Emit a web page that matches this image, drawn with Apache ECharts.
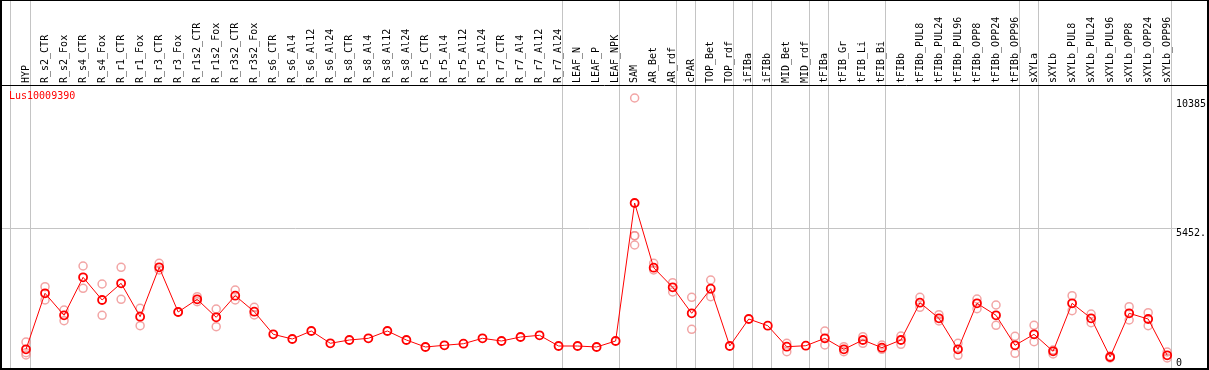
<!DOCTYPE html>
<html><head><meta charset="utf-8">
<script src="https://cdn.jsdelivr.net/npm/echarts@6/dist/echarts.min.js"></script>
<style>html,body{margin:0;padding:0;background:#fff}#c{width:1209px;height:370px}</style>
</head><body><div id="c"></div>
<script>
const geneName = 'Lus10009390';
const categories = ['HYP','R_s2_CTR','R_s2_Fox','R_s4_CTR','R_s4_Fox','R_r1_CTR','R_r1_Fox','R_r3_CTR','R_r3_Fox','R_r1s2_CTR','R_r1s2_Fox','R_r3s2_CTR','R_r3s2_Fox','R_s6_CTR','R_s6_Al4','R_s6_Al12','R_s6_Al24','R_s8_CTR','R_s8_Al4','R_s8_Al12','R_s8_Al24','R_r5_CTR','R_r5_Al4','R_r5_Al12','R_r5_Al24','R_r7_CTR','R_r7_Al4','R_r7_Al12','R_r7_Al24','LEAF_N','LEAF_P','LEAF_NPK','SAM','AR_Bet','AR_rdf','cPAR','TOP_Bet','TOP_rdf','iFIBa','iFIBb','MID_Bet','MID_rdf','tFIBa','tFIB_Gr','tFIB_Li','tFIB_Bi','tFIBb','tFIBb_PUL8','tFIBb_PUL24','tFIBb_PUL96','tFIBb_OPP8','tFIBb_OPP24','tFIBb_OPP96','sXYLa','sXYLb','sXYLb_PUL8','sXYLb_PUL24','sXYLb_PUL96','sXYLb_OPP8','sXYLb_OPP24','sXYLb_OPP96'];
const means = [825,2956,2119,3564,2701,3336,2066,3945,2244,2727,2043,2864,2256,1396,1217,1522,1054,1179,1244,1522,1179,913,978,1038,1244,1141,1293,1358,951,951,913,1141,6391,3930,3184,2195,3131,951,1978,1723,924,962,1244,825,1179,886,1179,2598,2005,825,2575,2119,978,1396,749,2575,2005,533,2195,1978,597];
const replicates = [
  [1103,696,609],[3207,2701],[2320,1913],[3994,3146],[3309,2119],[3945,2727],[2385,1723],[4097,3842],[2244],[2826,2636],[2358,1685],[3081,2701],[2423,2130],
  [],[],[],[],[],[],[],[],[],[],[],[],[],[],[],[],
  [],[],[],
  [10385,5147,5147,4793],[4097,3842],[3359,3005],[2804,1586],[3462,2826],[],[],[],[1054,734],[],
  [1522,989],[924,734],[1305,1054],[989,825],
  [1331,1016],[2804,2423],[2142,1902],[1054,597],[2739,2370],[2511,1738],[1320,673],
  [1738,1115],[799,647],[2864,2294],[2168,1837],[571,495],[2446,1940],[2218,1723],[723,495]
];
const groupEnds = ['HYP','R_r7_Al24','LEAF_NPK','AR_rdf','cPAR','TOP_rdf','iFIBa','iFIBb','MID_rdf','tFIBa','tFIB_Bi','tFIBb_OPP96','sXYLa','sXYLb_OPP96'];
const yMax = 10385;
const refLineValue = 5452;
const yTickValues = [10385, 5452, 0];
const yTickLabels = ['10385', '5452.', '0'];

const MONO = '"DejaVu Sans Mono", "Liberation Mono", monospace';
const chart = echarts.init(document.getElementById('c'), null, {renderer: 'canvas'});
const scatterData = [];
replicates.forEach((reps, i) => reps.forEach(v => scatterData.push([i, v])));
const sepIdx = [-1].concat(groupEnds.map(n => categories.indexOf(n)));

function sepRender(params, api) {
  const i = sepIdx[params.dataIndex];
  const x0 = api.coord([0, 0])[0];
  const bw = api.size([1, 0])[0];
  const x = Math.floor(x0 + bw * i + 4) + 0.5;
  return {type: 'line', shape: {x1: x, y1: 0, x2: x, y2: api.getHeight()}, style: {stroke: '#c4c4c4', lineWidth: 1}};
}
function hRender(params, api) {
  const x0 = api.coord([0, 0])[0];
  const bw = api.size([1, 0])[0];
  const y = Math.round(api.coord([0, refLineValue])[1]) + 0.5;
  return {type: 'line', shape: {x1: 2, y1: y, x2: x0 + bw * (categories.length - 0.5), y2: y}, style: {stroke: '#c4c4c4', lineWidth: 1}};
}

const option = {
  animation: false,
  title: {text: geneName, left: 9, top: 91, padding: 0,
    textStyle: {color: '#ff0000', fontSize: 10, fontWeight: 'normal', fontFamily: MONO}},
  grid: {left: 16.5, right: 32.3, top: 98, height: 273, containLabel: false, outerBoundsMode: 'none'},
  xAxis: {type: 'category', data: categories, position: 'top', offset: 13, boundaryGap: true,
    axisLine: {show: false}, axisTick: {show: false}, splitLine: {show: false},
    axisLabel: {interval: 0, rotate: 90, margin: 2, fontFamily: MONO, fontSize: 10, color: '#000'}},
  yAxis: {type: 'value', min: 0, max: yMax, show: false},
  series: [
    {type: 'custom', renderItem: sepRender, data: sepIdx.map((v, k) => [k]), z: 1, silent: true, clip: false},
    {type: 'custom', renderItem: hRender, data: [[0]], z: 1, silent: true, clip: false},
    {type: 'scatter', data: scatterData, symbol: 'circle', symbolSize: 8, clip: false, z: 2,
      itemStyle: {color: 'rgba(0,0,0,0)', borderColor: '#ef8f8f', borderWidth: 1.5}},
    {type: 'line', data: means, symbol: 'circle', symbolSize: 8, showAllSymbol: true, clip: false, z: 3,
      lineStyle: {color: '#ff0000', width: 1},
      itemStyle: {color: 'rgba(0,0,0,0)', borderColor: '#ff0000', borderWidth: 1.8}}
  ]
};
chart.setOption(option);

const graphics = [
  {type: 'rect', shape: {x: 1, y: 0, width: 1207, height: 369}, style: {fill: null, stroke: '#000', lineWidth: 2}, z: 100, silent: true},
  {type: 'line', shape: {x1: 0, y1: 85.5, x2: 1209, y2: 85.5}, style: {stroke: '#000', lineWidth: 1}, z: 100, silent: true}
];
yTickValues.forEach((v, k) => {
  const py = chart.convertToPixel({yAxisIndex: 0}, v);
  graphics.push({type: 'text', x: 1176, y: Math.min(py + 1, 358), z: 100, silent: true,
    style: {text: yTickLabels[k], fill: '#000', font: '10px ' + MONO, verticalAlign: 'top', align: 'left'}});
});
chart.setOption({graphic: graphics});
</script></body></html>
